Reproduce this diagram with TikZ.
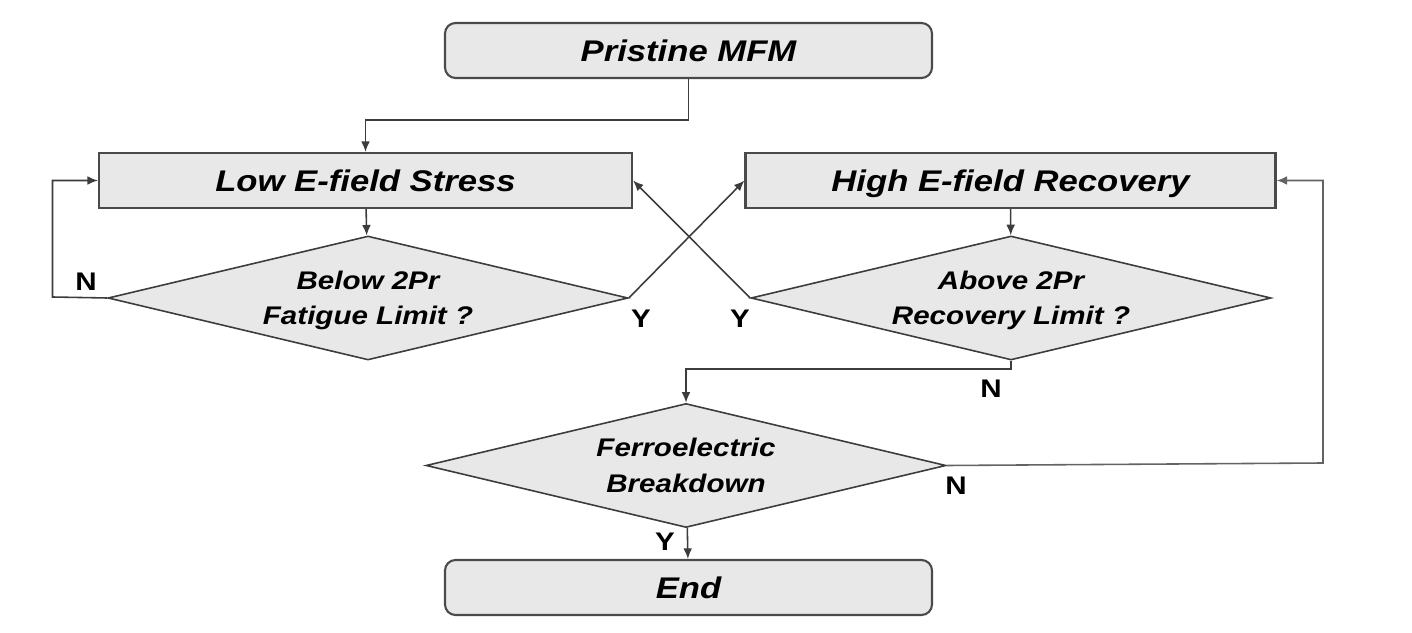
\documentclass[tikz,border=0pt]{standalone}
\usepackage{fontspec}
\setmainfont{Liberation Sans}[FakeStretch=1.16]
\usetikzlibrary{positioning,calc,shapes.geometric,arrows.meta}

\definecolor{boxfill}{HTML}{E8E8E8}
\definecolor{boxline}{HTML}{4A4A4A}
\definecolor{wire}{HTML}{3C3C3C}

\begin{document}
\begin{tikzpicture}[>={Latex[length=6pt,width=5pt]},
  every node/.style={font=\bfseries\itshape},
  proc/.style={draw=boxline,fill=boxfill,line width=1.2pt,minimum height=1.1cm,text height=12pt,text depth=0pt,font=\bfseries\itshape\fontsize{17}{20}\selectfont},
  term/.style={proc,rounded corners=6pt,minimum width=9.74cm},
  decide/.style={diamond,draw=wire,fill=boxfill,line width=0.9pt,aspect=4.2,inner sep=0pt,minimum width=10.4cm,minimum height=2.48cm,align=center,text depth=0pt,font=\bfseries\itshape\fontsize{14.5}{20.2}\selectfont},
  yn/.style={font=\bfseries\fontsize{14.5}{18}\selectfont},
  line/.style={draw=wire,line width=0.9pt}]
\useasboundingbox (0,0) rectangle (28.24,12.64);
\node[term] (start) at (13.77,11.63) {Pristine MFM};
\node[proc,minimum width=10.66cm] (low) at (7.31,9.03) {Low E-field Stress};
\node[proc,minimum width=10.6cm] (high) at (20.21,9.03) {High E-field Recovery};
\node[decide] (fat) at (7.36,6.68) {Below 2Pr\\Fatigue Limit ?};
\node[decide] (rec) at (20.22,6.68) {Above 2Pr\\Recovery Limit ?};
\node[decide] (brk) at (13.72,3.33) {Ferroelectric\\Breakdown};
\node[term] (end) at (13.77,0.89) {End};
\coordinate (c1) at (1.05,6.7);
\coordinate (c2) at (26.46,3.38);
% connectors
\draw[line,->] (start.south) |- (13.77,10.24) -| (low.north);
\draw[line,->] (low) -- (fat);
\draw[line,->] (fat.west) -- (c1) |- (low.west);
\draw[line,->] (fat.east) -- (high.west);
\draw[line,->] (rec.west) -- (low.east);
\draw[line,->] (high) -- (rec);
\draw[line,->] (rec.south) |- (20.22,5.26) -| (brk.north);
\draw[line,draw=wire!80,->] (brk.east) -- (c2) |- (high.east);
\draw[line,->] (brk) -- (end);
% labels
\node[yn] (n1) at (1.72,7.0) {N};
\node[yn] (y1) at (12.82,6.27) {Y};
\node[yn] (y2) at (14.8,6.27) {Y};
\node[yn] (n2) at (19.82,4.86) {N};
\node[yn] (n3) at (19.12,2.92) {N};
\node[yn] (y3) at (13.3,1.8) {Y};
\end{tikzpicture}
\end{document}
